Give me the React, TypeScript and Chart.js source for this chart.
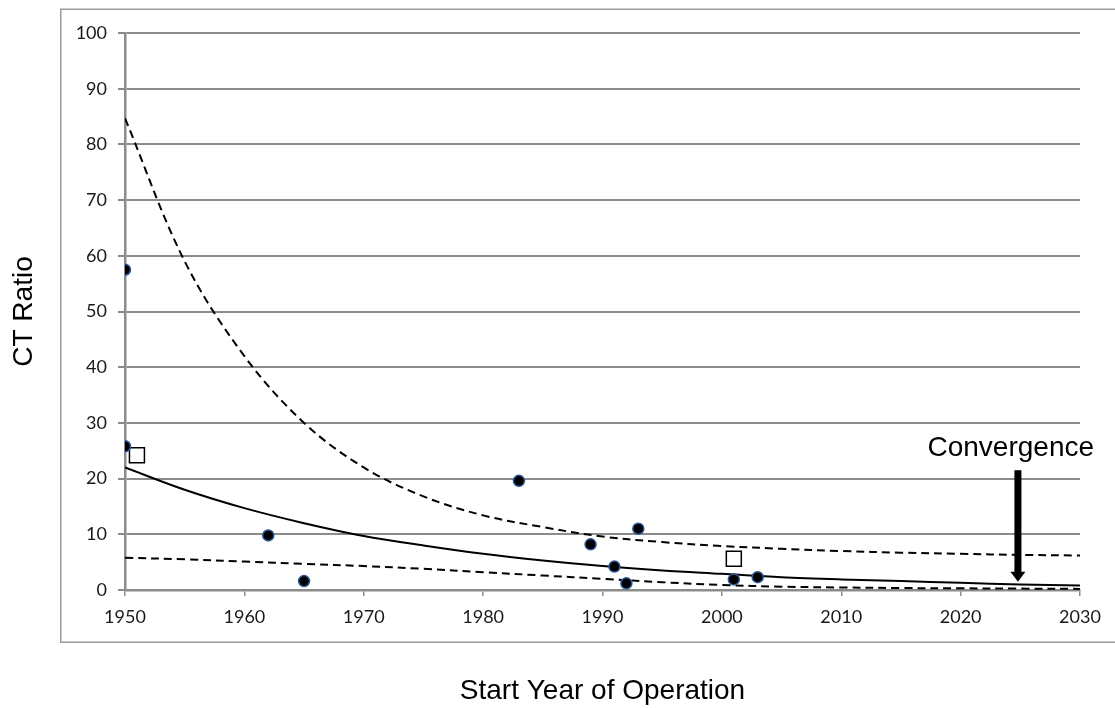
import React, { useEffect, useRef } from "react";
import { Chart, registerables } from "chart.js";

Chart.register(...registerables);

// ---- Data ----
const dotYears = [1950, 1950, 1962, 1965, 1983, 1989, 1991, 1992, 1993, 2001, 2003];
const dotValues = [57.5, 25.8, 9.8, 1.6, 19.6, 8.2, 4.2, 1.2, 11.0, 1.9, 2.3];

const squareYears = [1951, 2001];
const squareValues = [24.2, 5.6];

const curveYears = [1950, 1955, 1960, 1965, 1970, 1975, 1980, 1985, 1990, 1995, 2000, 2005, 2010, 2015, 2020, 2025, 2030];
const trendValues = [22.0, 18.0, 14.7, 12.0, 9.7, 8.0, 6.5, 5.3, 4.3, 3.5, 2.9, 2.3, 1.9, 1.6, 1.3, 1.0, 0.8];
const upperValues = [84.7, 59.0, 42.0, 30.0, 22.0, 16.8, 13.4, 11.3, 9.6, 8.6, 7.9, 7.4, 7.0, 6.7, 6.5, 6.3, 6.2];
const lowerValues = [5.8, 5.5, 5.1, 4.7, 4.3, 3.8, 3.2, 2.6, 2.0, 1.4, 0.9, 0.6, 0.45, 0.35, 0.3, 0.25, 0.2];

const xTickMin = 1950;
const xTickMax = 2030;
const xTickStep = 10;
const yTickMin = 0;
const yTickMax = 100;
const yTickStep = 10;

const convergenceLabel = "Convergence";
const convergenceLabelPos = [2024.2, 24.1]; // year, value (text baseline)
const convergenceArrowYear = [2024.8];
const convergenceArrowRange = [21.5, 1.5]; // from value, to value (tip)

const xTitle = "Start Year of Operation";
const yTitle = "CT Ratio";

const toPoints = (xs: number[], ys: number[]) => xs.map((x, i) => ({ x, y: ys[i] }));

const GRID = "#8c8c8c";
const TICK_FONT = { family: "Lato, 'Open Sans', sans-serif", size: 18 };
const TITLE_FONT = { family: "'Liberation Sans', Arial, sans-serif", size: 28 };

const framePlugin = {
  id: "frame",
  beforeDraw(chart: any) {
    const ctx = chart.ctx;
    ctx.save();
    ctx.fillStyle = "#ffffff";
    ctx.fillRect(0, 0, chart.width, chart.height);
    ctx.strokeStyle = "#9a9a9a";
    ctx.lineWidth = 1.5;
    ctx.strokeRect(60.75, 9.25, chart.width + 20, 633);
    ctx.restore();
  },
};

const convergencePlugin = {
  id: "convergence",
  afterDatasetsDraw(chart: any) {
    const { ctx, scales } = chart;
    const xs = scales.x;
    const ys = scales.y;
    ctx.save();
    ctx.font = `${TITLE_FONT.size}px ${TITLE_FONT.family}`;
    ctx.fillStyle = "#000";
    ctx.textAlign = "center";
    ctx.textBaseline = "alphabetic";
    ctx.fillText(
      convergenceLabel,
      xs.getPixelForValue(convergenceLabelPos[0]),
      ys.getPixelForValue(convergenceLabelPos[1])
    );
    const ax = xs.getPixelForValue(convergenceArrowYear[0]);
    const y0 = ys.getPixelForValue(convergenceArrowRange[0]);
    const y1 = ys.getPixelForValue(convergenceArrowRange[1]);
    const headH = 10;
    const headW = 15;
    ctx.fillStyle = "#000";
    ctx.fillRect(ax - 3.5, y0, 7, y1 - y0 - headH + 1);
    ctx.beginPath();
    ctx.moveTo(ax - headW / 2, y1 - headH);
    ctx.lineTo(ax + headW / 2, y1 - headH);
    ctx.lineTo(ax, y1);
    ctx.closePath();
    ctx.fill();
    ctx.restore();
  },
};

export default function App() {
  const canvasRef = useRef<HTMLCanvasElement | null>(null);

  useEffect(() => {
    if (!canvasRef.current) return;
    const lineDefaults = {
      showLine: true,
      pointRadius: 0,
      pointHoverRadius: 0,
      borderColor: "#000",
      borderWidth: 2,
      tension: 0.35,
      fill: false,
      order: 2,
    };
    const chart = new Chart(canvasRef.current, {
      type: "scatter",
      data: {
        datasets: [
          {
            label: "Upper bound",
            data: toPoints(curveYears, upperValues),
            ...lineDefaults,
            borderDash: [8, 5],
          },
          {
            label: "Lower bound",
            data: toPoints(curveYears, lowerValues),
            ...lineDefaults,
            borderDash: [8, 5],
          },
          {
            label: "Trend",
            data: toPoints(curveYears, trendValues),
            ...lineDefaults,
          },
          {
            label: "Squares",
            data: toPoints(squareYears, squareValues),
            pointStyle: "rect",
            pointRadius: 10.6,
            backgroundColor: "#ffffff",
            borderColor: "#000000",
            borderWidth: 1.5,
            order: 1,
          },
          {
            label: "Plants",
            data: toPoints(dotYears, dotValues),
            pointStyle: "circle",
            pointRadius: 5.5,
            backgroundColor: "#000000",
            borderColor: "#2b5797",
            borderWidth: 1.5,
            order: 0,
          },
        ],
      },
      options: {
        responsive: false,
        animation: false,
        layout: { padding: { top: 33, right: 35, left: 0, bottom: 0 } },
        plugins: {
          legend: { display: false },
          tooltip: { enabled: false },
        },
        scales: {
          x: {
            type: "linear",
            min: xTickMin,
            max: xTickMax,
            afterFit: (s: any) => {
              s.height = 118;
            },
            ticks: {
              stepSize: xTickStep,
              color: "#1a1a1a",
              font: TICK_FONT,
              padding: 10,
              maxRotation: 0,
              callback: (v: any) => String(v),
            },
            grid: {
              drawOnChartArea: false,
              drawTicks: true,
              tickLength: 6,
              color: GRID,
              lineWidth: 1.5,
            },
            border: { display: true, color: GRID, width: 2.5 },
            title: {
              display: true,
              text: xTitle,
              color: "#000",
              font: TITLE_FONT,
              padding: { top: 0, bottom: 0 },
            },
          },
          y: {
            type: "linear",
            min: yTickMin,
            max: yTickMax,
            afterFit: (s: any) => {
              s.width = 125;
            },
            ticks: {
              stepSize: yTickStep,
              color: "#1a1a1a",
              font: TICK_FONT,
              padding: 11,
            },
            grid: {
              drawOnChartArea: true,
              drawTicks: true,
              tickLength: 7,
              color: GRID,
              lineWidth: 2,
            },
            border: { display: true, color: GRID, width: 2.5 },
            title: {
              display: true,
              text: yTitle,
              color: "#000",
              font: TITLE_FONT,
              padding: { top: 7, bottom: 0 },
            },
          },
        },
      },
      plugins: [framePlugin, convergencePlugin],
    } as any);
    return () => chart.destroy();
  }, []);

  return (
    <div style={{ position: "fixed", left: 0, top: 0, width: 1115, height: 708, background: "#fff" }}>
      <canvas ref={canvasRef} width={1115} height={708} style={{ display: "block" }} />
    </div>
  );
}
